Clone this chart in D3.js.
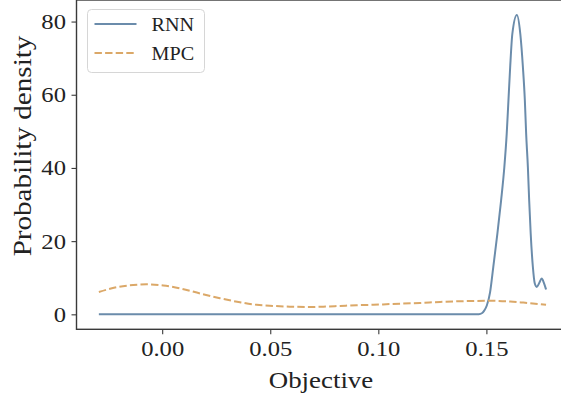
<!DOCTYPE html>
<html>
<head>
<meta charset="utf-8">
<script src="https://cdn.jsdelivr.net/npm/d3@7"></script>
<style>
  html, body { margin: 0; padding: 0; background: #fff; }
  svg { display: block; }
  text { font-family: "Liberation Serif", "DejaVu Serif", serif; fill: #222; }
</style>
</head>
<body>
<svg id="chart" width="561" height="398"></svg>
<script>
// Kernel density estimates of the objective for the two controllers
const rnnX = [-0.0293, 0.0500, 0.1000, 0.1440, 0.1465, 0.1479, 0.1490, 0.1502, 0.1517,
              0.1532, 0.1551, 0.1568, 0.1583, 0.1594, 0.1602, 0.1610, 0.1620, 0.1641,
              0.1657, 0.1669, 0.1678, 0.1684, 0.1692, 0.1698, 0.1705, 0.1715, 0.1724,
              0.1733, 0.1745, 0.1756, 0.1766, 0.1776];
const rnnY = [0.0, 0.0, 0.0, 0.0, 0.05, 0.3, 1.0, 2.4, 6.0,
              13.0, 22.1, 31.1, 40.2, 49.3, 58.4, 67.5, 76.6, 81.8,
              76.6, 67.5, 58.4, 49.3, 40.2, 31.1, 22.1, 13.0, 8.4,
              7.5, 8.6, 9.8, 8.6, 6.8];

const mpcX = [-0.0293, -0.0211, -0.0134, -0.0072, 0.0005, 0.0082, 0.0175, 0.0267, 0.0360,
              0.0437, 0.0514, 0.0591, 0.0669, 0.0745, 0.0823, 0.0900, 0.0977, 0.1054,
              0.1193, 0.1286, 0.1401, 0.1517, 0.1610, 0.1671, 0.1776];
const mpcY = [6.1, 7.4, 8.0, 8.2, 7.9, 7.1, 5.7, 4.4, 3.3,
              2.6, 2.3, 2.1, 2.0, 2.1, 2.3, 2.5, 2.6, 2.8,
              3.1, 3.4, 3.6, 3.7, 3.5, 3.2, 2.6];

const seriesNames = ["RNN", "MPC"];
const xTicks = [0.00, 0.05, 0.10, 0.15];
const yTicks = [0, 20, 40, 60, 80];
const xLabel = "Objective";
const yLabel = "Probability density";

const colors = { RNN: "#6b8cab", MPC: "#dba868" };

const series = [
  { name: seriesNames[0], pts: rnnX.map((x, i) => [x, rnnY[i]]), dash: null },
  { name: seriesNames[1], pts: mpcX.map((x, i) => [x, mpcY[i]]), dash: "7.4,3.2" }
];

// Plot box (the right edge runs past the canvas)
const box = { left: 76.5, right: 568.4, top: 0, bottom: 329.3 };

// 5% padding around the data extent, like the plotting default
const allX = rnnX.concat(mpcX), allY = rnnY.concat(mpcY);
const [x0, x1] = d3.extent(allX), [y0, y1] = d3.extent(allY);
const px = (x1 - x0) * 0.05, py = (y1 - y0) * 0.05;

const x = d3.scaleLinear().domain([x0 - px, x1 + px]).range([box.left, box.right]);
const y = d3.scaleLinear().domain([y0 - py, y1 + py]).range([box.bottom, box.top]);

const svg = d3.select("#chart");

const line = d3.line()
  .x(d => x(d[0]))
  .y(d => y(d[1]))
  .curve(d3.curveMonotoneX);

svg.append("g")
  .selectAll("path")
  .data(series)
  .join("path")
  .attr("fill", "none")
  .attr("stroke", d => colors[d.name])
  .attr("stroke-width", 2)
  .attr("stroke-dasharray", d => d.dash)
  .attr("d", d => line(d.pts));

// Text is widened a little so the serif face reads like the TeX one
const widen = 1.12;
const spine = "#3a3a3a";
const xAxis = svg.append("g")
  .attr("transform", `translate(0,${box.bottom})`)
  .call(d3.axisBottom(x).tickValues(xTicks).tickFormat(d3.format(".2f")).tickSize(5).tickPadding(6));
const yAxis = svg.append("g")
  .attr("transform", `translate(${box.left},0)`)
  .call(d3.axisLeft(y).tickValues(yTicks).tickFormat(d3.format("d")).tickSize(5).tickPadding(5));

[xAxis, yAxis].forEach(g => {
  g.select(".domain").remove();
  g.selectAll(".tick line").attr("stroke", spine).attr("stroke-width", 1.1);
  g.selectAll(".tick text").attr("font-size", 22).attr("fill", "#222")
    .attr("transform", `scale(${widen},1)`)
    .style("font-family", "'Liberation Serif', 'DejaVu Serif', serif");
});
yAxis.selectAll(".tick text").attr("x", -10.5 / widen);

// Frame
svg.append("rect")
  .attr("x", box.left).attr("y", box.top)
  .attr("width", box.right - box.left).attr("height", box.bottom - box.top)
  .attr("fill", "none").attr("stroke", spine).attr("stroke-width", 1.4);

// Axis titles
const xc = 321;
svg.append("text")
  .attr("transform", `translate(${xc},388) scale(${widen},1)`)
  .attr("text-anchor", "middle").attr("font-size", 24)
  .text(xLabel);

svg.append("text")
  .attr("transform", `translate(31,146) rotate(-90) scale(${widen},1)`)
  .attr("text-anchor", "middle").attr("font-size", 26)
  .text(yLabel);

// Legend
const lg = svg.append("g").attr("transform", "translate(87.5,9.5)");
lg.append("rect")
  .attr("width", 117).attr("height", 63).attr("rx", 4)
  .attr("fill", "#fff").attr("fill-opacity", 0.8)
  .attr("stroke", "#d6d6d6").attr("stroke-width", 1);
series.forEach((s, i) => {
  const yy = 14.5 + i * 29;
  lg.append("line")
    .attr("x1", 7).attr("x2", 49).attr("y1", yy).attr("y2", yy)
    .attr("stroke", colors[s.name]).attr("stroke-width", 2)
    .attr("stroke-dasharray", s.dash);
  lg.append("text")
    .attr("transform", `translate(64,${yy + 6.5}) scale(${widen},1)`)
    .attr("font-size", 18)
    .text(s.name);
});
</script>
</body>
</html>
